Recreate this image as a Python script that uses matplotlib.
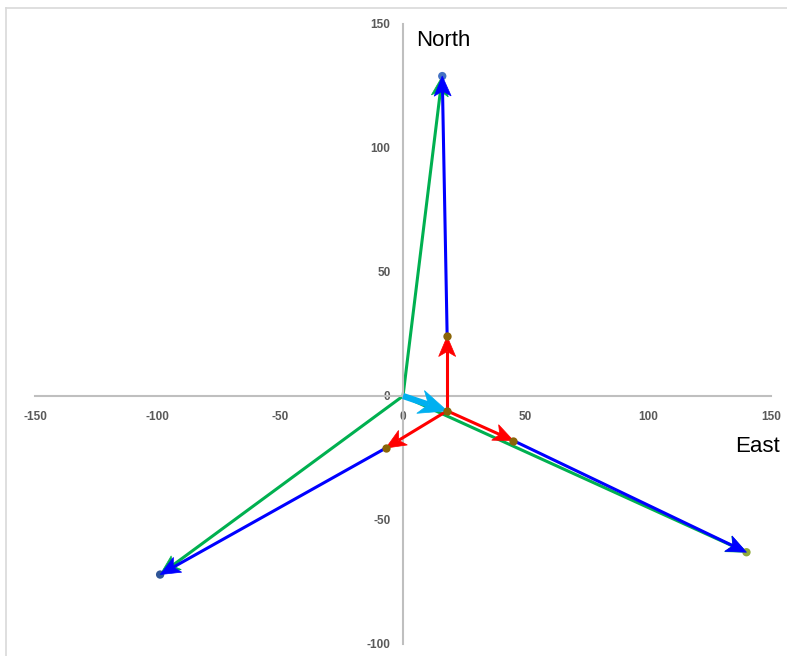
import matplotlib
matplotlib.use("Agg")
import numpy as np
import matplotlib.pyplot as plt
from matplotlib.lines import Line2D
from matplotlib.patches import Polygon
from matplotlib.transforms import IdentityTransform

plt.rcParams["axes.unicode_minus"] = False

# Data (East, North)
center = (18, -6)
red_tips_x = [18, -7, 45]
red_tips_y = [24, -21, -18]
outer_x = [16, -99, 140]
outer_y = [129, -72, -63]
outer_marker_colors = ["#4472C4", "#2F5597", "#8FAA3C"]

x_ticks = [-150, -100, -50, 0, 50, 100, 150]
y_ticks = [-100, -50, 0, 50, 100, 150]

W, H = 787, 656
fig = plt.figure(figsize=(W / 100, H / 100), dpi=100)
ax = fig.add_axes([35 / W, (H - 644) / H, 736 / W, 620 / H])
ax.set_xlim(-150, 150)
ax.set_ylim(-100, 150)

for s in ["top", "right"]:
    ax.spines[s].set_visible(False)
ax.spines["left"].set_position("zero")
ax.spines["bottom"].set_position("zero")
for s in ["left", "bottom"]:
    ax.spines[s].set_color("#BFBFBF")
    ax.spines[s].set_linewidth(1.5)

ax.set_xticks(x_ticks)
ax.set_yticks(y_ticks)
ax.tick_params(length=0, labelsize=8.5, labelcolor="#595959")
ax.tick_params(axis="x", pad=11)
ax.tick_params(axis="y", pad=9)
for lab in ax.get_xticklabels() + ax.get_yticklabels():
    lab.set_fontweight("bold")
    lab.set_family("Liberation Sans")


def arrow(p0, p1, color, lw=2.2, L=20.0, hw=8.5, notch=0.25, z=2):
    a = ax.transData.transform(p0)
    b = ax.transData.transform(p1)
    d = b - a
    d = d / np.hypot(*d)
    n = np.array([-d[1], d[0]])
    base = b - L * d
    notch_pt = b - (1 - notch) * L * d
    notch_data = ax.transData.inverted().transform(notch_pt)
    ax.plot([p0[0], notch_data[0]], [p0[1], notch_data[1]], color=color, lw=lw,
            solid_capstyle="butt", zorder=z)
    poly = Polygon([b, base + hw * n, notch_pt, base - hw * n], closed=True,
                   facecolor=color, edgecolor=color, lw=0.5,
                   transform=IdentityTransform(), zorder=z)
    ax.add_artist(poly)


# Green: origin to outer points
for x, y in zip(outer_x, outer_y):
    arrow((0, 0), (x, y), "#00B050", z=2)

# Blue: red tips to outer points
for x0, y0, x, y in zip(red_tips_x, red_tips_y, outer_x, outer_y):
    arrow((x0, y0), (x, y), "#0000FF", z=3)

# Red: center to red tips
for x, y in zip(red_tips_x, red_tips_y):
    arrow(center, (x, y), "#FF0000", z=4)

# Cyan: origin to center
arrow((0, 0), center, "#00B0F0", lw=4.5, L=28.0, hw=12.0, notch=0.3, z=5)

# Markers
ax.scatter(red_tips_x + [center[0]], red_tips_y + [center[1]], s=36,
           color="#8B6508", zorder=6, linewidths=0)
ax.scatter(outer_x, outer_y, s=36, c=outer_marker_colors, zorder=2.5, linewidths=0)

ax.text(16.5, 143.5, "North", fontsize=16, family="Liberation Sans",
        ha="center", va="center", color="black")
ax.text(144.5, -20.5, "East", fontsize=16, family="Liberation Sans",
        ha="center", va="center", color="black")

# Chart frame edges (top/left)
fig.add_artist(Line2D([6 / W, 1], [1 - 8 / H, 1 - 8 / H], transform=fig.transFigure,
                      color="#D9D9D9", lw=1.2))
fig.add_artist(Line2D([6 / W, 6 / W], [0, 1 - 8 / H], transform=fig.transFigure,
                      color="#D9D9D9", lw=1.2))

fig.savefig("out.png", dpi=100)
